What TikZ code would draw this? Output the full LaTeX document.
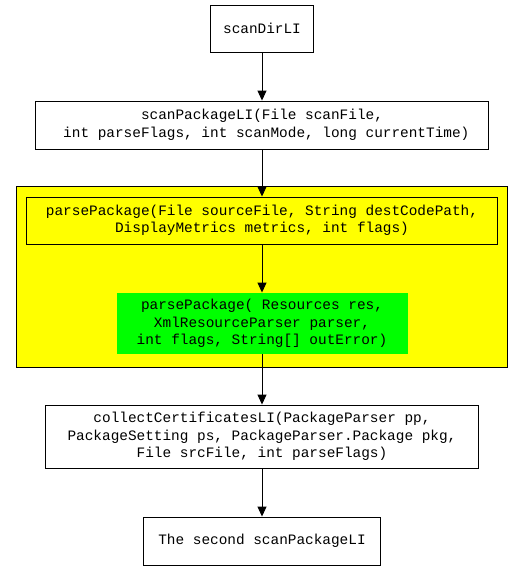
\documentclass[tikz,border=0pt]{standalone}
\usepackage{fontspec}
\setmonofont{Liberation Mono}
\usetikzlibrary{arrows.meta}
\begin{document}
\begin{tikzpicture}[x=1pt,y=-1pt,
  box/.style={draw=black,line width=0.9pt,rectangle,inner sep=0pt,align=center,
    font=\ttfamily\fontsize{14.4}{17.5}\selectfont},
  conn/.style={draw=black,line width=0.9pt,-{Triangle[length=10pt,width=9pt]}}]
\useasboundingbox (0,0) rectangle (525,571);
\fill[white] (0,0) rectangle (525,571);
\draw[line width=0.9pt,fill={rgb,255:red,255;green,255;blue,0}] (16,186) rectangle (507,367);
\node[box,minimum width=103pt,minimum height=47pt] (dir) at (262,28.5) {scanDirLI};
\node[box,minimum width=453pt,minimum height=48pt] (scan) at (262,125) {scanPackageLI(File scanFile,\\ \ int parseFlags, int scanMode, long currentTime)};
\node[box,minimum width=471pt,minimum height=47pt] (pp1) at (262,220.5) {parsePackage(File sourceFile, String destCodePath,\\DisplayMetrics metrics, int flags)};
\node[box,draw=none,fill={rgb,255:red,0;green,255;blue,0},minimum width=291pt,minimum height=61pt] (green) at (262,323.5) {parsePackage( Resources res,\\XmlResourceParser parser,\\int flags, String[] outError)};
\node[box,minimum width=433pt,minimum height=63pt] (coll) at (262,436.5) {collectCertificatesLI(PackageParser pp,\\PackageSetting ps, PackageParser.Package pkg,\\File srcFile, int parseFlags)};
\node[box,minimum width=237pt,minimum height=48pt] (sec) at (262,541) {The second scanPackageLI};
\draw[conn] (dir) -- (scan);
\draw[conn] (scan) -- (pp1);
\draw[conn] (pp1) -- (green);
\draw[conn] (green) -- (coll);
\draw[conn] (coll) -- (sec);
\end{tikzpicture}
\end{document}
